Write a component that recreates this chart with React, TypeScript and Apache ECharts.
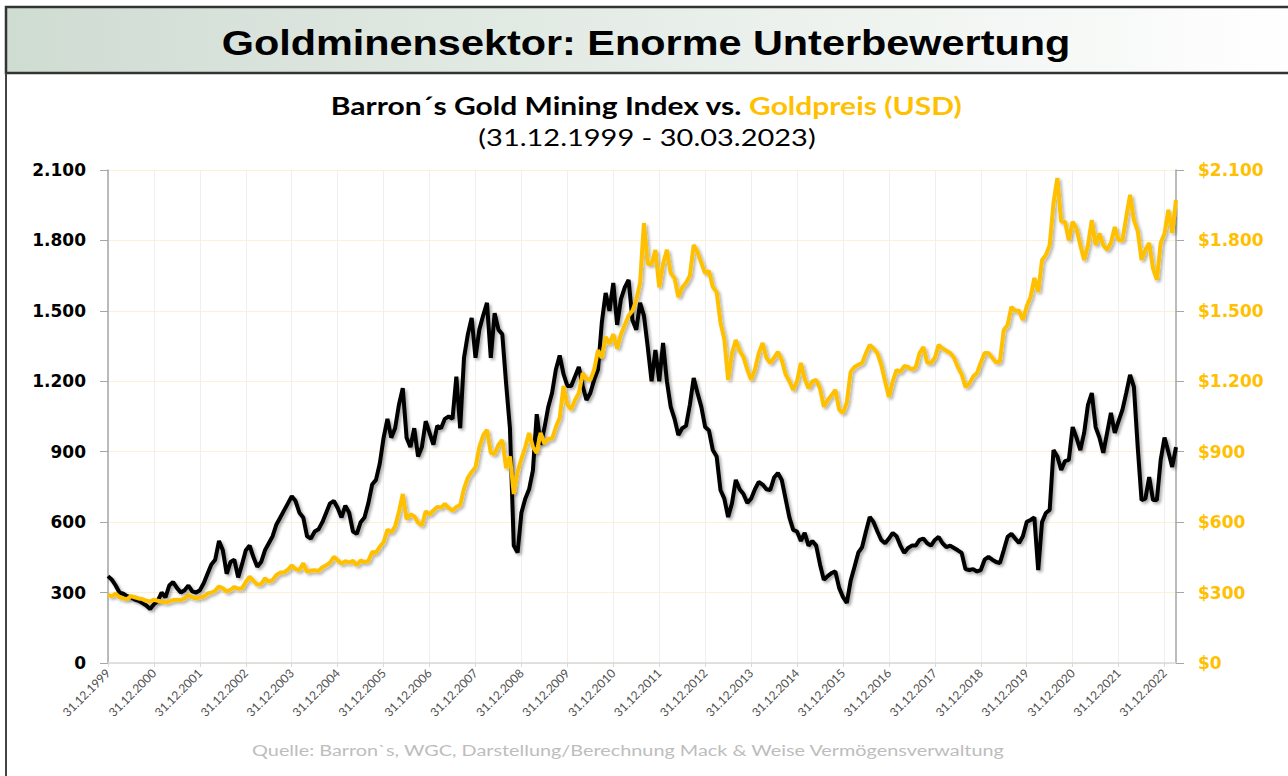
import React, { useEffect, useRef } from "react";
import * as echarts from "echarts";

// Monthly values, 31.12.1999 .. 30.03.2023 (280 points)
const START_YEAR = 1999; // first point = December 1999

const miningIndex: number[] = [
  370,
  355, 330, 300, 295, 285, 280, 270, 265, 255, 245, 230, 250,
  265, 300, 280, 330, 345, 320, 300, 310, 330, 305, 300, 310,
  340, 380, 420, 440, 520, 480, 380, 430, 440, 365, 420, 480,
  500, 450, 410, 430, 480, 510, 540, 590, 620, 650, 680, 710,
  690, 640, 620, 540, 530, 560, 570, 600, 640, 680, 690, 660,
  620, 670, 640, 560, 550, 600, 620, 680, 760, 780, 850, 960,
  1040, 960, 1000, 1100, 1171, 960, 920, 1000, 880, 920, 1030, 980,
  930, 1010, 1000, 1040, 1050, 1040, 1220, 1000, 1300, 1400, 1470, 1300,
  1420, 1480, 1534, 1300, 1490, 1420, 1400, 1190, 1000, 500, 470, 640,
  700, 740, 820, 1060, 930, 1000, 1090, 1150, 1250, 1310, 1230, 1180,
  1180, 1220, 1261, 1180, 1120, 1150, 1206, 1250, 1450, 1576, 1500, 1619,
  1440, 1550, 1600, 1632, 1461, 1420, 1534, 1480, 1346, 1200, 1333, 1200,
  1363, 1200, 1091, 1040, 971, 1000, 1010, 1100, 1214, 1150, 1091, 1005,
  990, 907, 880, 737, 700, 622, 680, 780, 740, 720, 682, 700,
  740, 771, 760, 740, 737, 790, 809, 780, 700, 620, 567, 560,
  520, 554, 500, 520, 500, 420, 354, 370, 383, 390, 320, 281,
  256, 350, 409, 470, 494, 560, 622, 600, 560, 524, 510, 530,
  554, 540, 500, 469, 490, 500, 500, 524, 530, 510, 500, 524,
  537, 510, 494, 500, 490, 480, 469, 400, 396, 400, 390, 396,
  440, 452, 440, 430, 426, 480, 537, 550, 530, 511, 540, 601,
  609, 620, 396, 600, 639, 652, 907, 880, 822, 860, 865, 1005,
  960, 907, 980, 1100, 1150, 1005, 960, 895, 980, 1065, 980, 1030,
  1078, 1150, 1227, 1176, 920, 694, 700, 792, 694, 694, 865, 960,
  900, 835, 920,
];

const goldPrice: number[] = [
  290,
  285, 295, 280, 275, 272, 285, 280, 275, 272, 265, 262, 270,
  265, 262, 258, 262, 268, 270, 268, 275, 290, 280, 275, 280,
  282, 296, 300, 308, 326, 318, 304, 312, 324, 316, 318, 345,
  368, 350, 334, 336, 361, 346, 354, 375, 385, 386, 398, 416,
  400, 396, 425, 388, 394, 395, 392, 408, 416, 428, 452, 438,
  423, 434, 428, 435, 417, 437, 430, 434, 473, 470, 495, 515,
  568, 556, 582, 644, 720, 613, 633, 625, 598, 586, 646, 632,
  650, 665, 662, 678, 660, 650, 665, 672, 743, 789, 814, 834,
  920, 970, 993, 895, 890, 930, 950, 830, 880, 720, 815, 870,
  920, 980, 920, 895, 980, 935, 955, 955, 1005, 1045, 1180, 1100,
  1080, 1120, 1150, 1235, 1210, 1206, 1250, 1333, 1300, 1389, 1360, 1400,
  1340, 1400, 1440, 1480, 1500, 1546, 1620, 1874, 1700, 1700, 1759, 1600,
  1700, 1760, 1660, 1640, 1559, 1600, 1619, 1650, 1781, 1750, 1704, 1660,
  1670, 1602, 1580, 1450, 1380, 1206, 1320, 1376, 1330, 1304, 1250, 1206,
  1250, 1320, 1363, 1300, 1278, 1300, 1325, 1290, 1230, 1200, 1163, 1200,
  1278, 1210, 1170, 1200, 1206, 1170, 1091, 1120, 1140, 1163, 1080, 1065,
  1110, 1240, 1261, 1270, 1278, 1320, 1355, 1340, 1320, 1270, 1200, 1133,
  1200, 1248, 1240, 1265, 1261, 1250, 1260, 1320, 1346, 1280, 1278, 1300,
  1355, 1340, 1330, 1321, 1300, 1261, 1230, 1176, 1190, 1220, 1235, 1280,
  1320, 1321, 1300, 1280, 1285, 1419, 1440, 1517, 1500, 1500, 1461, 1520,
  1559, 1640, 1580, 1717, 1738, 1780, 1960, 2066, 1880, 1880, 1800, 1880,
  1850, 1780, 1717, 1780, 1887, 1780, 1830, 1780, 1760, 1790, 1857, 1802,
  1800, 1900, 1994, 1887, 1840, 1717, 1760, 1789, 1680, 1632, 1789, 1830,
  1930, 1832, 1972,
];

const TITLE = "Goldminensektor: Enorme Unterbewertung";
const SUB_BLACK = "Barron´s Gold Mining Index vs. ";
const SUB_GOLD = "Goldpreis (USD)";
const SUB_RANGE = "(31.12.1999 - 30.03.2023)";
const SOURCE = "Quelle: Barron`s, WGC, Darstellung/Berechnung Mack & Weise Vermögensverwaltung";

const Y_MIN = 0;
const Y_MAX = 2100;
const Y_STEP = 300;

const GOLD = "#FFC000";

function pad(n: number) {
  return n < 10 ? "0" + n : "" + n;
}

// month-end date labels
const categories: string[] = miningIndex.map((_, i) => {
  const mIdx = 11 + i; // months since Jan 1999
  const y = START_YEAR + Math.floor(mIdx / 12);
  const m = mIdx % 12;
  const last = new Date(y, m + 1, 0).getDate();
  return pad(last) + "." + pad(m + 1) + "." + y;
});

function thousands(v: number) {
  return String(v).replace(/\B(?=(\d{3})+(?!\d))/g, ".");
}

const isYearEnd = (_i: number, v: string) => typeof v === "string" && v.indexOf("31.12.") === 0;

export default function App() {
  const ref = useRef<HTMLDivElement>(null);
  useEffect(() => {
    if (!ref.current) return;
    const chart = echarts.init(ref.current, undefined, { renderer: "svg" });
    const yLabelBase = {
      fontFamily: "DejaVu Sans",
      fontWeight: "bold" as const,
      fontSize: 17,
      margin: 22,
    };
    chart.setOption({
      animation: false,
      backgroundColor: "#ffffff",
      grid: { left: 108, right: 112, top: 170, bottom: 113, containLabel: false },
      xAxis: {
        type: "category",
        boundaryGap: false,
        data: categories,
        axisLine: { lineStyle: { color: "#d9d9d9", width: 1.5 } },
        axisTick: { show: true, interval: isYearEnd, length: 4, lineStyle: { color: "#d9d9d9" } },
        axisLabel: {
          interval: isYearEnd,
          rotate: 45,
          fontSize: 12,
          fontFamily: "Lato",
          color: "#505050",
          margin: 8,
        },
        splitLine: { show: true, interval: isYearEnd, lineStyle: { color: "#efefef", width: 1 } },
      },
      yAxis: [
        {
          type: "value",
          position: "left",
          min: Y_MIN,
          max: Y_MAX,
          interval: Y_STEP,
          axisLine: { show: true, lineStyle: { color: "#a6a6a6", width: 1.5 } },
          axisTick: { show: true, length: 8, lineStyle: { color: "#a6a6a6" } },
          axisLabel: { ...yLabelBase, color: "#000000", formatter: (v: number) => thousands(v) },
          splitLine: { show: true, lineStyle: { color: "#fdf0d5", width: 1 } },
        },
        {
          type: "value",
          position: "right",
          min: Y_MIN,
          max: Y_MAX,
          interval: Y_STEP,
          axisLine: { show: true, lineStyle: { color: "#a6a6a6", width: 1.5 } },
          axisTick: { show: true, length: 8, lineStyle: { color: "#a6a6a6" } },
          axisLabel: { ...yLabelBase, color: GOLD, formatter: (v: number) => "$" + thousands(v) },
          splitLine: { show: false },
        },
      ],
      series: [
        {
          name: "Barron´s Gold Mining Index",
          type: "line",
          yAxisIndex: 0,
          data: miningIndex,
          showSymbol: false,
          z: 2,
          lineStyle: {
            color: "#000000",
            width: 4,
            shadowColor: "rgba(0,0,0,0.35)",
            shadowBlur: 3,
            shadowOffsetX: 2,
            shadowOffsetY: 2,
          },
        },
        {
          name: "Goldpreis (USD)",
          type: "line",
          yAxisIndex: 1,
          data: goldPrice,
          showSymbol: false,
          z: 3,
          lineStyle: {
            color: GOLD,
            width: 4,
            shadowColor: "rgba(0,0,0,0.3)",
            shadowBlur: 3,
            shadowOffsetX: 2,
            shadowOffsetY: 2,
          },
        },
      ],
      graphic: [
        {
          type: "rect",
          shape: { x: 6, y: 7, width: 1300, height: 66 },
          style: {
            fill: new echarts.graphic.LinearGradient(0, 0, 1, 0, [
              { offset: 0, color: "#cfdcd2" },
              { offset: 1, color: "#ffffff" },
            ]),
            stroke: "#333333",
            lineWidth: 2.5,
          },
          z: 10,
        },
        {
          type: "line",
          shape: { x1: 6, y1: 73, x2: 6, y2: 790 },
          style: { stroke: "#444444", lineWidth: 2 },
          z: 10,
        },
        {
          type: "text",
          x: 646,
          y: 42,
          scaleX: 1.15,
          z: 11,
          style: {
            text: TITLE,
            font: 'bold 36px "Liberation Sans"',
            fill: "#000000",
            textAlign: "center",
            textVerticalAlign: "middle",
          },
        },
        {
          type: "text",
          x: 646,
          y: 106,
          scaleX: 1.25,
          z: 11,
          style: {
            text: "{a|" + SUB_BLACK + "}{b|" + SUB_GOLD + "}",
            textAlign: "center",
            textVerticalAlign: "middle",
            rich: {
              a: { fontFamily: "Lato", fontWeight: "bold", fontSize: 24, fill: "#000000", color: "#000000" },
              b: { fontFamily: "Lato", fontWeight: "bold", fontSize: 24, fill: GOLD, color: GOLD },
            },
          },
        },
        {
          type: "text",
          x: 647,
          y: 137,
          scaleX: 1.26,
          z: 11,
          style: {
            text: SUB_RANGE,
            font: '23px "Lato"',
            fill: "#000000",
            textAlign: "center",
            textVerticalAlign: "middle",
          },
        },
        {
          type: "text",
          x: 628,
          y: 750,
          scaleX: 1.24,
          z: 11,
          style: {
            text: SOURCE,
            font: '16px "Lato"',
            fill: "#bdbdbd",
            textAlign: "center",
            textVerticalAlign: "middle",
          },
        },
      ],
    });
    return () => chart.dispose();
  }, []);
  return (
    <div
      ref={ref}
      style={{ position: "absolute", left: 0, top: 0, width: 1288, height: 776, background: "#fff" }}
    />
  );
}
